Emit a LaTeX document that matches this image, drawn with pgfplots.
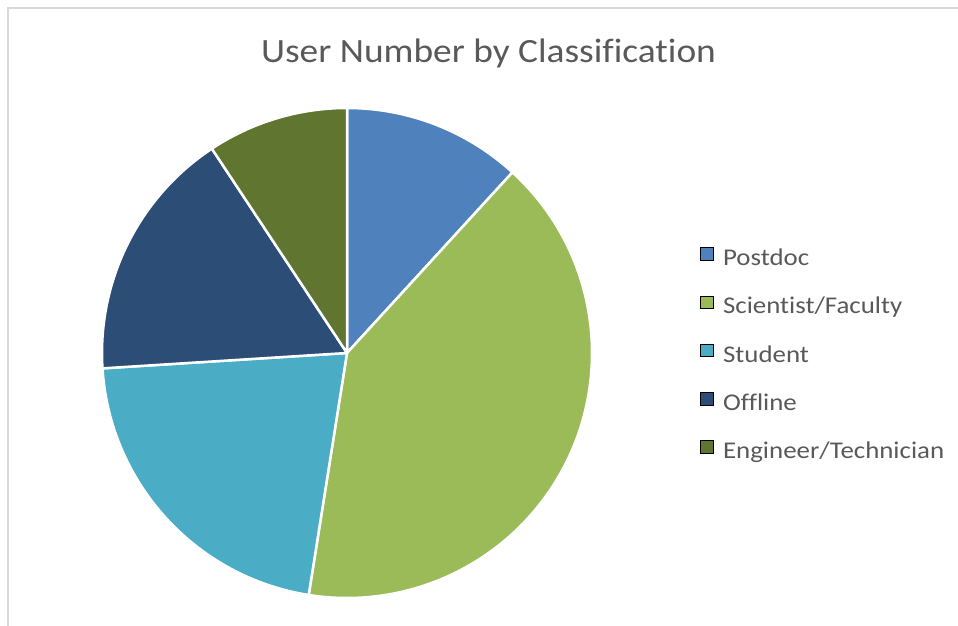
\documentclass[border=0pt]{standalone}
\usepackage{fontspec}
\setmainfont{Carlito}[Ligatures=NoCommon]
\newfontfamily\titlefont{Carlito}[Ligatures=NoCommon, FakeStretch=1.1]
\newfontfamily\legendfont{Carlito}[Ligatures=NoCommon, FakeStretch=1.12]
\usepackage{pgfplots}
\usepackage{pgfplotstable}
\pgfplotsset{compat=1.18}

\definecolor{slice0}{HTML}{4F81BD}
\definecolor{slice1}{HTML}{9BBB59}
\definecolor{slice2}{HTML}{4BACC6}
\definecolor{slice3}{HTML}{2C4D75}
\definecolor{slice4}{HTML}{5F7530}
\definecolor{textgray}{HTML}{595959}
\definecolor{framegray}{HTML}{D9D9D9}

% share of users, percent, clockwise from 12 o'clock
\pgfplotstableread{
label value
Postdoc 11.8
Scientist/Faculty 40.7
Student 21.5
Offline 16.7
Engineer/Technician 9.3
}\piedata

\begin{document}
\begin{tikzpicture}
\useasboundingbox (0,0) rectangle (958pt,625pt);
\draw[framegray, line width=2pt] (8pt,-10pt) -- (8pt,617pt) -- (970pt,617pt);

\node[anchor=base, text=textgray, font=\titlefont\fontsize{34}{40}\selectfont]
  at (488.5pt,562pt) {User Number by Classification};

\begin{axis}[
    hide axis,
    scale only axis,
    width=490pt, height=490pt,
    xmin=-1, xmax=1, ymin=-1, ymax=1,
    at={(347pt,272pt)}, anchor=center,
    legend cell align=left,
    legend image code/.code={\fill[#1] (0pt,0pt) rectangle (12.5pt,12.5pt);},
    legend style={
        at={(1.2204,0.7163)}, anchor=north west,
        draw=none, fill=none, inner sep=0pt,
        font=\legendfont\fontsize{24}{28}\selectfont, text=textgray,
        nodes={inner sep=0pt, text height=17pt, text depth=6pt},
        row sep=24.1pt,
        /tikz/column 1/.style={column sep=10pt},
    },
]
\pgfplotstablegetrowsof{\piedata}
\pgfmathtruncatemacro\lastrow{\pgfplotsretval-1}
\def\cum{0}
\pgfplotsforeachungrouped \i in {0,...,\lastrow}{
    \pgfplotstablegetelem{\i}{value}\of\piedata
    \let\val\pgfplotsretval
    \pgfmathsetmacro\angA{90-3.6*\cum}
    \pgfmathsetmacro\angB{90-3.6*(\cum+\val)}
    \pgfmathsetmacro\cum{\cum+\val}
    \edef\temp{\noexpand\fill[fill=slice\i, draw=white, line width=2.5pt, line join=round]
        (axis cs:0,0) -- (axis cs:{cos(\angA)},{sin(\angA)})
        arc[start angle=\angA, end angle=\angB, radius=245pt] -- cycle;}
    \temp
}
\addlegendimage{fill=slice0}\addlegendentry{Postdoc}
\addlegendimage{fill=slice1}\addlegendentry{Scientist/Faculty}
\addlegendimage{fill=slice2}\addlegendentry{Student}
\addlegendimage{fill=slice3}\addlegendentry{Offline}
\addlegendimage{fill=slice4}\addlegendentry{Engineer/Technician}
\end{axis}
\end{tikzpicture}
\end{document}
